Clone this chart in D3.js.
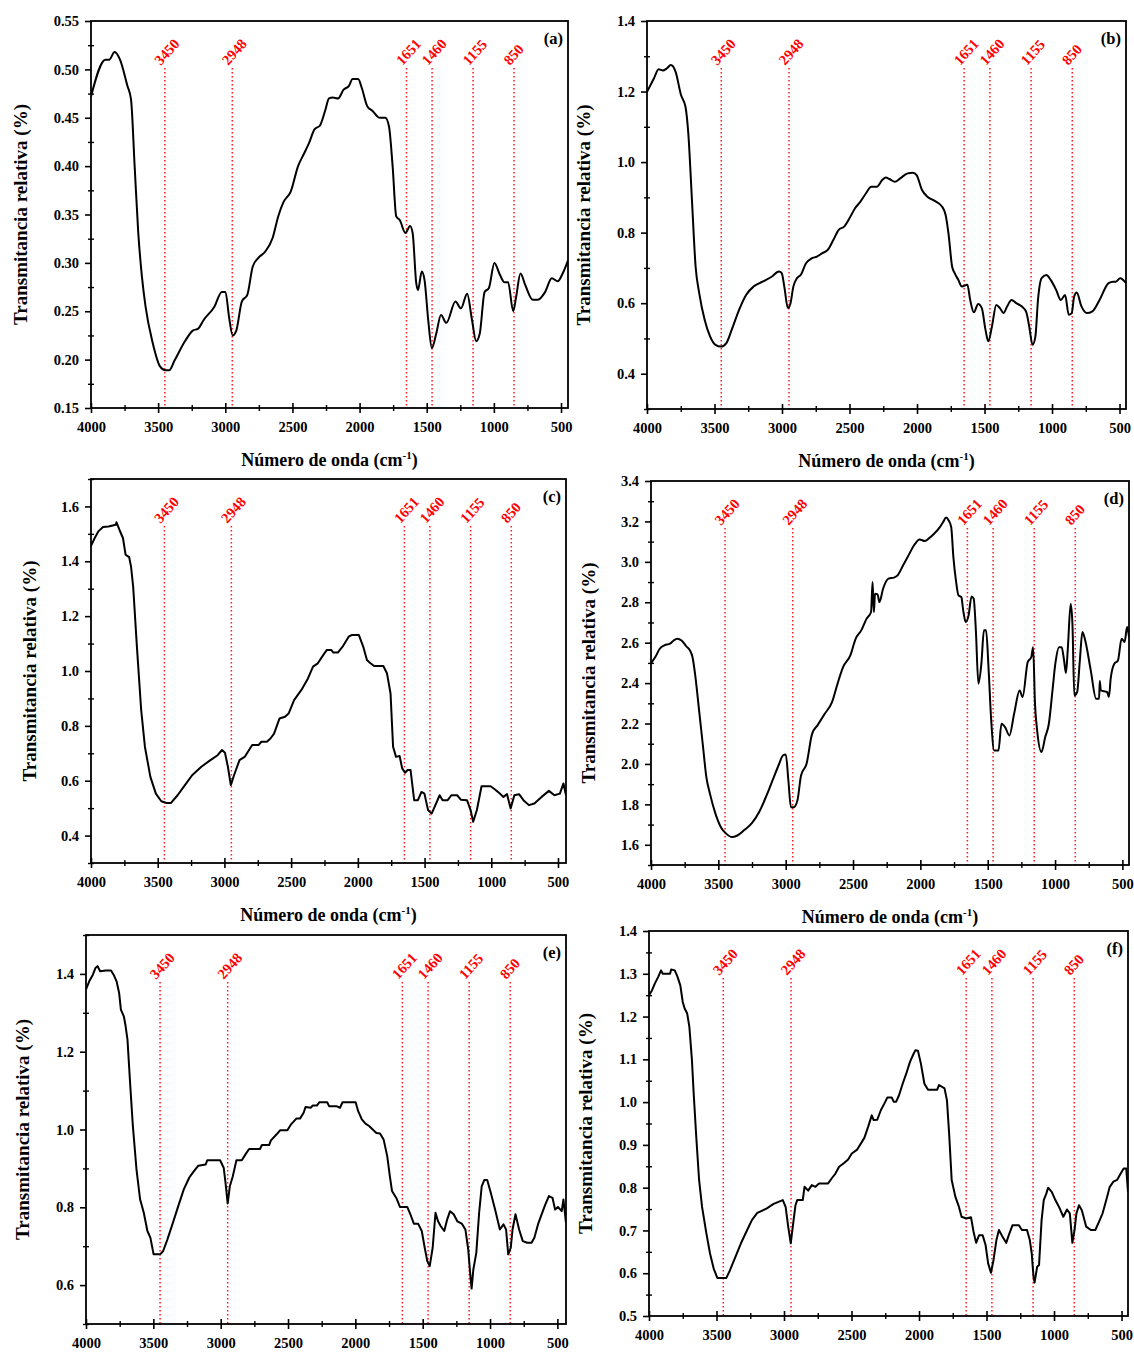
<!DOCTYPE html>
<html>
<head>
<meta charset="utf-8">
<script src="https://cdn.jsdelivr.net/npm/d3@7"></script>
<style>
  body { margin: 0; background: #fff; }
  svg { display: block; }
  text { font-family: "Liberation Serif", "Times New Roman", serif; font-weight: bold; }
</style>
</head>
<body>
<svg id="chart" width="1134" height="1352"></svg>
<script>
// ---------- FTIR spectra: wavenumber (cm-1) and relative transmittance ----------
const waveA = [4000,3892,3865,3824,3784,3729,3702,3675,3648,3621,3594,3540,3486,3445,3418,3378,3296,3242,3202,3161,3080,3026,2999,2972,2945,2918,2877,2836,2796,2755,2701,2647,2606,2566,2512,2458,2417,2376,2336,2295,2255,2228,2200,2160,2119,2079,2052,2011,1984,1943,1903,1849,1808,1781,1754,1727,1700,1659,1624,1605,1578,1565,1537,1516,1489,1462,1429,1394,1354,1286,1245,1199,1164,1132,1105,1069,1037,996,956,921,894,856,834,802,766,712,672,618,569,524,488,447];
const transA = [0.472,0.510,0.510,0.518,0.510,0.483,0.469,0.400,0.331,0.286,0.255,0.217,0.193,0.189,0.189,0.199,0.220,0.230,0.232,0.241,0.255,0.270,0.270,0.244,0.225,0.230,0.260,0.267,0.296,0.305,0.312,0.326,0.348,0.363,0.374,0.400,0.412,0.424,0.438,0.442,0.458,0.470,0.471,0.470,0.479,0.483,0.490,0.490,0.481,0.462,0.457,0.450,0.450,0.441,0.400,0.348,0.344,0.331,0.338,0.331,0.279,0.272,0.291,0.282,0.241,0.212,0.227,0.246,0.238,0.260,0.253,0.268,0.242,0.219,0.227,0.270,0.274,0.300,0.288,0.280,0.280,0.250,0.265,0.289,0.277,0.262,0.262,0.270,0.284,0.281,0.289,0.303];

const waveB = [4000,3949,3914,3882,3855,3823,3788,3748,3715,3694,3667,3640,3613,3573,3533,3493,3452,3412,3372,3318,3265,3211,3144,3077,3023,3002,2983,2956,2937,2916,2889,2862,2822,2781,2741,2701,2661,2620,2580,2540,2500,2459,2419,2379,2339,2298,2258,2231,2204,2164,2124,2070,2030,2003,1963,1923,1869,1815,1788,1767,1740,1721,1694,1668,1627,1606,1579,1547,1520,1493,1472,1445,1413,1386,1359,1332,1300,1265,1225,1192,1171,1144,1123,1104,1077,1042,1010,970,935,903,876,854,836,817,782,742,701,648,581,548,527,495,452];
const transB = [1.199,1.237,1.263,1.260,1.265,1.275,1.256,1.190,1.157,1.081,0.892,0.704,0.628,0.553,0.506,0.482,0.477,0.487,0.525,0.581,0.624,0.647,0.661,0.675,0.690,0.685,0.647,0.586,0.600,0.647,0.671,0.680,0.713,0.727,0.732,0.742,0.751,0.779,0.808,0.817,0.841,0.869,0.888,0.911,0.930,0.930,0.949,0.956,0.952,0.944,0.954,0.968,0.970,0.963,0.921,0.902,0.890,0.874,0.850,0.798,0.704,0.685,0.666,0.647,0.652,0.609,0.574,0.598,0.586,0.525,0.492,0.534,0.595,0.586,0.572,0.591,0.609,0.600,0.591,0.576,0.539,0.482,0.506,0.609,0.671,0.680,0.666,0.638,0.609,0.623,0.567,0.572,0.619,0.630,0.591,0.572,0.577,0.609,0.657,0.661,0.661,0.671,0.657];

const waveC = [4000,3973,3945,3910,3869,3814,3809,3787,3760,3741,3714,3700,3684,3656,3624,3596,3555,3514,3473,3433,3400,3351,3296,3242,3173,3105,3051,3018,2996,2974,2952,2928,2887,2846,2792,2745,2723,2682,2655,2628,2587,2546,2519,2478,2423,2374,2336,2300,2260,2232,2200,2183,2150,2110,2069,2047,1992,1960,1932,1910,1878,1809,1782,1755,1736,1714,1687,1668,1646,1627,1605,1578,1550,1523,1501,1474,1447,1419,1387,1365,1327,1299,1256,1228,1182,1155,1136,1108,1073,1005,972,936,909,882,855,827,792,759,718,677,623,568,527,486,459,440];
const transC = [1.456,1.484,1.509,1.525,1.527,1.533,1.542,1.515,1.484,1.424,1.415,1.381,1.308,1.089,0.858,0.724,0.614,0.553,0.525,0.519,0.519,0.547,0.584,0.620,0.651,0.675,0.693,0.712,0.702,0.651,0.584,0.620,0.675,0.688,0.730,0.730,0.742,0.742,0.754,0.772,0.827,0.833,0.845,0.894,0.931,0.973,1.016,1.028,1.058,1.077,1.077,1.067,1.067,1.092,1.125,1.131,1.131,1.089,1.040,1.030,1.018,1.018,0.992,0.918,0.724,0.687,0.690,0.645,0.629,0.639,0.639,0.529,0.529,0.559,0.553,0.493,0.480,0.511,0.547,0.529,0.529,0.547,0.547,0.531,0.529,0.493,0.450,0.493,0.580,0.580,0.568,0.553,0.541,0.551,0.499,0.547,0.551,0.529,0.511,0.517,0.541,0.563,0.547,0.553,0.590,0.547];

const waveD = [4000,3968,3935,3900,3859,3832,3805,3773,3738,3711,3692,3670,3643,3616,3589,3562,3521,3481,3440,3400,3359,3305,3251,3197,3142,3088,3048,3021,2999,2980,2961,2940,2913,2886,2845,2804,2764,2710,2656,2615,2574,2520,2480,2439,2399,2366,2355,2345,2337,2318,2304,2277,2236,2196,2169,2128,2088,2047,2006,1966,1939,1898,1858,1831,1809,1790,1771,1755,1736,1717,1696,1682,1663,1642,1620,1604,1588,1569,1547,1528,1512,1493,1474,1452,1420,1398,1371,1339,1304,1263,1241,1203,1176,1163,1149,1133,1101,1073,1046,1019,998,970,951,933,919,906,884,871,857,836,816,797,776,735,695,673,668,660,614,600,587,560,533,506,484,465,451];
const transD = [2.499,2.529,2.570,2.587,2.595,2.611,2.620,2.611,2.582,2.562,2.529,2.430,2.265,2.100,1.935,1.852,1.753,1.687,1.654,1.638,1.646,1.674,1.707,1.762,1.844,1.935,2.001,2.042,2.047,1.918,1.786,1.786,1.819,1.943,2.001,2.149,2.191,2.248,2.306,2.397,2.479,2.537,2.620,2.661,2.719,2.752,2.900,2.752,2.842,2.839,2.801,2.867,2.917,2.922,2.933,2.983,3.032,3.082,3.111,3.103,3.115,3.139,3.169,3.197,3.219,3.205,3.172,3.024,2.908,2.834,2.826,2.760,2.702,2.735,2.829,2.818,2.661,2.397,2.496,2.661,2.661,2.463,2.215,2.067,2.067,2.199,2.182,2.141,2.248,2.364,2.331,2.504,2.529,2.578,2.298,2.166,2.059,2.133,2.199,2.364,2.496,2.578,2.578,2.512,2.450,2.562,2.793,2.694,2.339,2.356,2.512,2.653,2.611,2.463,2.323,2.323,2.410,2.364,2.356,2.331,2.422,2.496,2.512,2.620,2.603,2.677,2.628];

const waveE = [4000,3976,3949,3930,3914,3895,3854,3814,3795,3773,3754,3741,3719,3706,3692,3671,3652,3625,3598,3571,3544,3522,3498,3450,3428,3396,3355,3315,3274,3234,3207,3166,3112,3099,3004,2977,2964,2948,2932,2910,2883,2843,2816,2789,2708,2694,2640,2627,2586,2559,2505,2478,2438,2411,2384,2370,2330,2316,2284,2268,2209,2195,2141,2114,2095,1998,1979,1952,1925,1898,1871,1844,1817,1790,1763,1744,1728,1696,1669,1615,1588,1566,1534,1507,1485,1466,1448,1426,1405,1386,1367,1340,1318,1297,1270,1243,1210,1183,1162,1148,1137,1124,1102,1081,1062,1043,1021,994,962,927,900,881,865,846,833,811,784,757,724,692,671,644,617,590,563,536,517,496,468,455,436];
const transE = [1.360,1.381,1.398,1.415,1.420,1.407,1.409,1.409,1.398,1.381,1.351,1.308,1.291,1.266,1.231,1.111,1.009,0.897,0.820,0.786,0.739,0.722,0.679,0.679,0.687,0.717,0.760,0.803,0.846,0.876,0.889,0.907,0.910,0.921,0.921,0.901,0.863,0.810,0.854,0.880,0.921,0.921,0.936,0.950,0.950,0.960,0.960,0.972,0.987,0.998,0.998,1.013,1.028,1.028,1.043,1.058,1.056,1.062,1.062,1.070,1.070,1.060,1.060,1.056,1.070,1.070,1.047,1.026,1.015,1.009,1.000,0.991,0.990,0.974,0.931,0.880,0.842,0.824,0.801,0.801,0.779,0.758,0.758,0.739,0.696,0.662,0.649,0.696,0.786,0.764,0.752,0.739,0.769,0.790,0.782,0.764,0.758,0.743,0.692,0.632,0.591,0.640,0.683,0.786,0.854,0.870,0.870,0.837,0.794,0.743,0.756,0.743,0.679,0.696,0.743,0.782,0.743,0.713,0.709,0.709,0.722,0.756,0.782,0.807,0.829,0.824,0.794,0.801,0.790,0.820,0.760];

const waveF = [4000,3978,3957,3930,3911,3898,3844,3836,3809,3790,3768,3750,3736,3717,3701,3682,3669,3650,3629,3607,3575,3548,3521,3494,3427,3400,3359,3319,3279,3238,3198,3130,3077,3009,2988,2969,2950,2929,2915,2902,2861,2848,2821,2794,2767,2740,2673,2646,2619,2592,2557,2525,2498,2458,2431,2404,2377,2350,2336,2309,2283,2256,2234,2202,2188,2169,2148,2121,2094,2067,2040,2027,2008,1986,1960,1933,1865,1852,1811,1793,1777,1758,1731,1704,1685,1650,1615,1596,1577,1555,1529,1507,1488,1467,1448,1427,1408,1381,1354,1335,1308,1260,1238,1200,1179,1165,1152,1144,1125,1111,1092,1076,1057,1044,1017,990,963,931,904,883,864,848,834,815,794,762,727,694,667,640,613,587,560,533,506,484,465,452];
const transF = [1.250,1.261,1.277,1.294,1.308,1.300,1.300,1.310,1.308,1.294,1.273,1.234,1.219,1.207,1.176,1.098,1.020,0.919,0.818,0.755,0.693,0.646,0.611,0.589,0.589,0.607,0.639,0.670,0.697,0.724,0.741,0.751,0.762,0.771,0.755,0.709,0.670,0.724,0.759,0.771,0.771,0.802,0.793,0.806,0.802,0.810,0.810,0.822,0.833,0.849,0.857,0.866,0.880,0.889,0.903,0.917,0.942,0.969,0.958,0.959,0.981,0.997,1.011,1.011,1.001,1.001,1.016,1.043,1.067,1.094,1.113,1.121,1.120,1.090,1.043,1.029,1.029,1.040,1.032,1.004,0.927,0.818,0.779,0.755,0.732,0.728,0.731,0.697,0.671,0.689,0.689,0.666,0.623,0.601,0.631,0.677,0.701,0.685,0.671,0.689,0.712,0.712,0.701,0.701,0.677,0.646,0.592,0.578,0.615,0.619,0.724,0.771,0.786,0.800,0.790,0.771,0.755,0.732,0.749,0.740,0.671,0.701,0.740,0.759,0.747,0.709,0.701,0.701,0.720,0.740,0.771,0.802,0.814,0.818,0.833,0.845,0.845,0.790];

// Band assignments marked on every spectrum (cm-1)
const peakLabels = [3450, 2948, 1651, 1460, 1155, 850];

// Axis tick labels
const xTickValues = [4000, 3500, 3000, 2500, 2000, 1500, 1000, 500];
const yTicksA = [0.15, 0.20, 0.25, 0.30, 0.35, 0.40, 0.45, 0.50, 0.55];
const yTicksB = [0.4, 0.6, 0.8, 1.0, 1.2, 1.4];
const yTicksC = [0.4, 0.6, 0.8, 1.0, 1.2, 1.4, 1.6];
const yTicksD = [1.6, 1.8, 2.0, 2.2, 2.4, 2.6, 2.8, 3.0, 3.2, 3.4];
const yTicksE = [0.6, 0.8, 1.0, 1.2, 1.4];
const yTicksF = [0.5, 0.6, 0.7, 0.8, 0.9, 1.0, 1.1, 1.2, 1.3, 1.4];

const yTitle = "Transmitancia relativa (%)";

// ---------- panel definitions (data + frame geometry) ----------
const panels = [
  { tag: "(a)", wave: waveA, trans: transA, yTicks: yTicksA, yDomain: [0.15, 0.55], fmt: ".2f",
    box: { l: 91, t: 21, r: 568, b: 408 }, xEnd: 448, titleX: 20, xTitle: true, smooth: true },
  { tag: "(b)", wave: waveB, trans: transB, yTicks: yTicksB, yDomain: [0.3, 1.4], fmt: ".1f",
    box: { l: 647, t: 21, r: 1126, b: 409 }, xEnd: 452, titleX: 583, xTitle: true, smooth: true },
  { tag: "(c)", wave: waveC, trans: transC, yTicks: yTicksC, yDomain: [0.3, 1.7], fmt: ".1f",
    box: { l: 91, t: 479, r: 566, b: 863 }, xEnd: 440, titleX: 29, xTitle: true, smooth: false },
  { tag: "(d)", wave: waveD, trans: transD, yTicks: yTicksD, yDomain: [1.5, 3.4], fmt: ".1f",
    box: { l: 651, t: 481, r: 1129, b: 865 }, xEnd: 451, titleX: 588, xTitle: true, smooth: true },
  { tag: "(e)", wave: waveE, trans: transE, yTicks: yTicksE, yDomain: [0.5, 1.5], fmt: ".1f",
    box: { l: 86, t: 935, r: 566, b: 1324 }, xEnd: 436, titleX: 22, xTitle: false, smooth: false },
  { tag: "(f)", wave: waveF, trans: transF, yTicks: yTicksF, yDomain: [0.5, 1.4], fmt: ".1f",
    box: { l: 649, t: 931, r: 1128, b: 1316 }, xEnd: 452, titleX: 585, xTitle: false, smooth: false }
];

const svg = d3.select("#chart");
const FONT = '"Liberation Serif", "Times New Roman", serif';

panels.forEach((p, i) => {
  const w = p.box.r - p.box.l;
  const h = p.box.b - p.box.t;
  const x = d3.scaleLinear().domain([4000, p.xEnd]).range([0, w]);
  const y = d3.scaleLinear().domain(p.yDomain).range([h, 0]);

  const g = svg.append("g").attr("transform", `translate(${p.box.l},${p.box.t})`);

  const clipId = "clip-" + i;
  g.append("clipPath").attr("id", clipId)
    .append("rect").attr("width", w).attr("height", h);

  // peak marker lines
  const markTop = 47;
  g.append("g").selectAll("line").data(peakLabels).join("line")
    .attr("x1", d => x(d)).attr("x2", d => x(d))
    .attr("y1", markTop).attr("y2", h)
    .attr("stroke", "#ff1a1a").attr("stroke-width", 1.5)
    .attr("stroke-dasharray", "1.5,2.5");

  g.append("g").selectAll("text").data(peakLabels).join("text")
    .attr("transform", d => `translate(${x(d) - 4},${markTop - 2}) rotate(-48)`)
    .attr("fill", "#ff0000").attr("font-size", 14.5)
    .text(d => d);

  // spectrum
  const line = d3.line()
    .x(d => x(d[0])).y(d => y(d[1]))
    .curve(p.smooth ? d3.curveMonotoneX : d3.curveLinear);
  g.append("path")
    .datum(d3.zip(p.wave, p.trans))
    .attr("clip-path", `url(#${clipId})`)
    .attr("fill", "none").attr("stroke", "#000").attr("stroke-width", 2)
    .attr("stroke-linejoin", "round")
    .attr("d", line);

  // x axis: major + minor ticks crossing the bottom frame
  const xMinor = d3.pairs(xTickValues).map(([a, b]) => (a + b) / 2);
  g.append("g").attr("transform", `translate(0,${h})`)
    .call(d3.axisBottom(x).tickValues(xTickValues).tickSize(5).tickPadding(9).tickFormat(d3.format("d")))
    .call(a => a.select(".domain").remove())
    .call(a => a.selectAll(".tick line").attr("y1", -5).attr("y2", 5).attr("stroke-width", 1.6))
    .attr("font-family", FONT).attr("font-size", 14.5).attr("font-weight", "bold");
  g.append("g").attr("transform", `translate(0,${h})`)
    .call(d3.axisBottom(x).tickValues(xMinor).tickSize(3).tickFormat(""))
    .call(a => a.select(".domain").remove())
    .call(a => a.selectAll(".tick line").attr("y1", -3).attr("y2", 3).attr("stroke-width", 1.4));

  // y axis
  const step = p.yTicks[1] - p.yTicks[0];
  const yMinor = d3.range(p.yTicks.length + 1)
    .map(k => p.yTicks[0] - step / 2 + k * step)
    .filter(v => v >= p.yDomain[0] - 1e-9 && v <= p.yDomain[1] + 1e-9);
  g.append("g")
    .call(d3.axisLeft(y).tickValues(p.yTicks).tickSize(6).tickPadding(6).tickFormat(d3.format(p.fmt)))
    .call(a => a.select(".domain").remove())
    .call(a => a.selectAll(".tick line").attr("stroke-width", 1.6))
    .attr("font-family", FONT).attr("font-size", 14.5).attr("font-weight", "bold");
  g.append("g")
    .call(d3.axisLeft(y).tickValues(yMinor).tickSize(3).tickFormat(""))
    .call(a => a.select(".domain").remove())
    .call(a => a.selectAll(".tick line").attr("x1", 3).attr("x2", -3).attr("stroke-width", 1.4));

  // frame
  g.append("rect").attr("width", w).attr("height", h)
    .attr("fill", "none").attr("stroke", "#000").attr("stroke-width", 1.8);

  // panel tag
  g.append("text").attr("x", w - 5).attr("y", 23)
    .attr("text-anchor", "end").attr("font-size", 16.5).text(p.tag);

  // y title
  svg.append("text")
    .attr("transform", `translate(${p.titleX},${p.box.t + h / 2}) rotate(-90)`)
    .attr("text-anchor", "middle").attr("dominant-baseline", "central")
    .attr("font-size", 19).text(yTitle);

  // x title
  if (p.xTitle) {
    const t = svg.append("text")
      .attr("x", p.box.l + w / 2).attr("y", p.box.b + 58)
      .attr("text-anchor", "middle").attr("font-size", 18);
    t.append("tspan").text("Número de onda (cm");
    t.append("tspan").attr("font-size", 11).attr("dy", -7).text("-1");
    t.append("tspan").attr("dy", 7).text(")");
  }
});
</script>
</body>
</html>
